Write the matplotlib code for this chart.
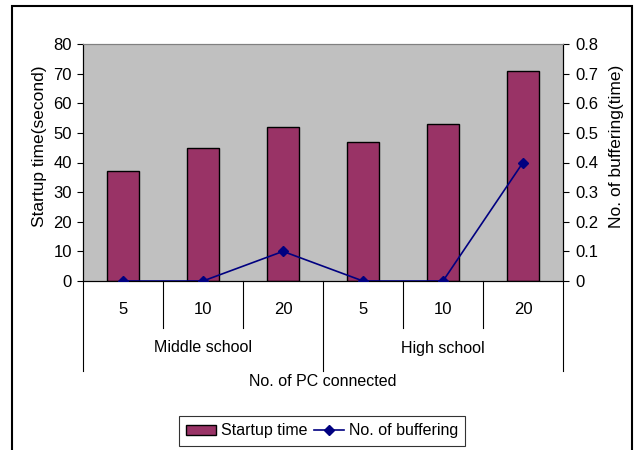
import matplotlib
matplotlib.use("Agg")
import matplotlib.pyplot as plt
from matplotlib.patches import Rectangle, Patch
from matplotlib.lines import Line2D
from matplotlib.ticker import FuncFormatter
import matplotlib.transforms as mtransforms

plt.rcParams['font.family'] = ['Liberation Sans', 'DejaVu Sans']

groups = ["Middle school", "High school"]
pc_labels = ["5", "10", "20", "5", "10", "20"]
startup_time = [37, 45, 52, 47, 53, 71]
buffering = [0, 0, 0.1, 0, 0, 0.4]

BAR = "#993366"
LINE = "#000080"
FS = 12
FS_LAB = 11.5

fig = plt.figure(figsize=(6.43, 4.5), dpi=100)
W, H = 643, 450
ax = fig.add_axes([83 / W, 1 - 281 / H, (563 - 83) / W, (281 - 44) / H])
ax.set_facecolor("#C0C0C0")

x = list(range(len(startup_time)))
ax.bar(x, startup_time, width=0.41, color=BAR, edgecolor="black", linewidth=1, zorder=2)
ax.set_xlim(-0.5, len(x) - 0.5)
ax.set_ylim(0, 80)
ax.set_yticks(range(0, 81, 10))
ax.tick_params(axis="y", direction="out", length=4, labelsize=FS, pad=4)
ax.tick_params(axis="x", bottom=False, labelbottom=False)
ax.spines["top"].set_color("#808080")
ax.spines["left"].set_color("black")
ax.spines["bottom"].set_color("black")

ax2 = ax.twinx()
ax2.plot(x, buffering, color=LINE, marker="D", markersize=5, linewidth=1.2, zorder=3)
ax2.set_ylim(0, 0.8)
ax2.set_yticks([i / 10 for i in range(9)])
ax2.yaxis.set_major_formatter(FuncFormatter(lambda v, p: "0" if abs(v) < 1e-9 else f"{v:.1f}"))
ax2.tick_params(axis="y", direction="out", length=4, labelsize=FS, pad=5)
ax2.spines["top"].set_color("#808080")

# two-level category axis
trans = mtransforms.blended_transform_factory(ax.transData, ax.transAxes)
ax_h = 281 - 44
def fy(px):
    return -px / ax_h

for b in [0.5, 1.5, 3.5, 4.5]:
    ax.plot([b, b], [0, fy(47)], color="black", lw=0.8, transform=trans, clip_on=False)
for b in [-0.5, 2.5, 5.5]:
    ax.plot([b, b], [0, fy(90)], color="black", lw=0.8, transform=trans, clip_on=False)
for xi, lab in zip(x, pc_labels):
    ax.text(xi, fy(28), lab, transform=trans, ha="center", va="center", fontsize=FS)
for gi, g in enumerate(groups):
    ax.text(gi * 3 + 1, fy(67), g, transform=trans, ha="center", va="center", fontsize=FS_LAB)
ax.text(0.5, fy(100), "No. of PC connected", transform=ax.transAxes, ha="center", va="center", fontsize=FS_LAB)

fig.text(40 / W, 1 - 146 / H, "Startup time(second)", rotation=90, ha="center", va="center", fontsize=12.5)
fig.text(616 / W, 1 - 146 / H, "No. of buffering(time)", rotation=90, ha="center", va="center", fontsize=12.5)

handles = [Patch(facecolor=BAR, edgecolor="black", linewidth=1),
           Line2D([], [], color=LINE, marker="D", markersize=5, linewidth=1.2)]
leg = fig.legend(handles, ["Startup time", "No. of buffering"], loc="center",
                 bbox_to_anchor=(322 / W, 1 - 431 / H), ncol=2, fontsize=FS_LAB,
                 frameon=True, fancybox=False, edgecolor="black", borderpad=0.45,
                 handlelength=1.9, handleheight=0.6, columnspacing=0.4, handletextpad=0.3,
                 borderaxespad=0)
leg.get_frame().set_linewidth(0.8)

fig.patches.append(Rectangle((12 / W, -0.1), (632 - 12) / W, 1.1 - 6 / H, transform=fig.transFigure,
                             fill=False, edgecolor="black", linewidth=1.5))

fig.savefig("out.png", dpi=100)
